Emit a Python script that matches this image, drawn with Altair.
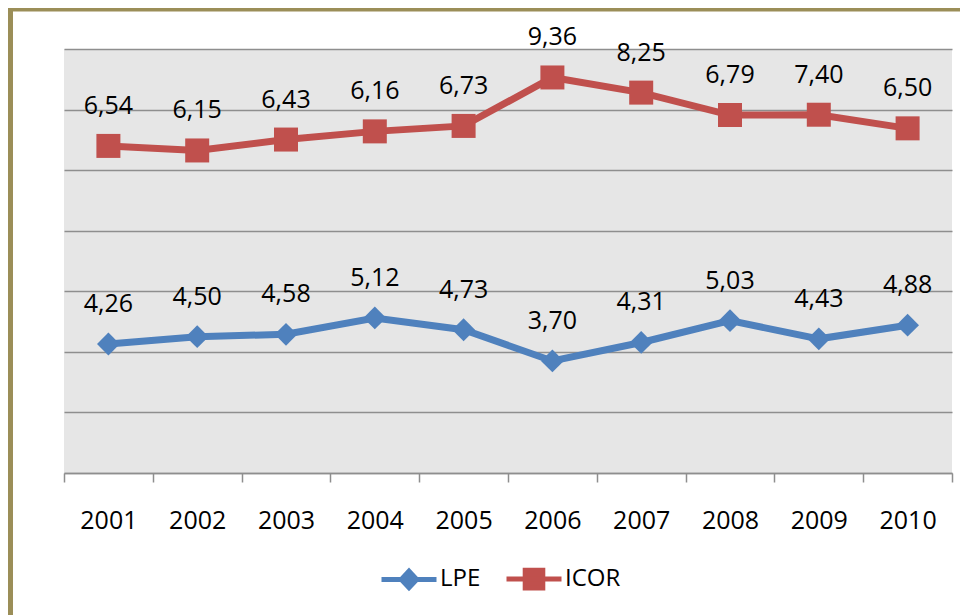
import altair as alt
import pandas as pd

years = ["2001", "2002", "2003", "2004", "2005", "2006", "2007", "2008", "2009", "2010"]
lpe = [4.26, 4.50, 4.58, 5.12, 4.73, 3.70, 4.31, 5.03, 4.43, 4.88]
icor = [6.54, 6.15, 6.43, 6.16, 6.73, 9.36, 8.25, 6.79, 7.40, 6.50]
series_names = ["LPE", "ICOR"]
series_colors = ["#4F81BD", "#C0504D"]
y_grid = [0, 2, 4, 6, 8, 10, 12, 14]

rows = []
for i, yr in enumerate(years):
    rows.append({"year": yr, "series": "LPE", "order": 0, "value": lpe[i]})
    rows.append({"year": yr, "series": "ICOR", "order": 1, "value": icor[i]})
df = pd.DataFrame(rows)

FONT = "Open Sans"
GRID = "#8E8E8E"
color_scale = alt.Scale(domain=series_names, range=series_colors)

x_enc = alt.X(
    "year:N",
    sort=years,
    scale=alt.Scale(type="band", paddingInner=0, paddingOuter=0),
    axis=alt.Axis(
        title=None, labelAngle=0, tickBand="extent", grid=False,
        domainColor=GRID, domainWidth=1.5, tickColor=GRID, tickWidth=1.5, tickSize=9,
        labelFont=FONT, labelFontSize=25, labelColor="black", labelPadding=26,
    ),
)
y_enc = alt.Y(
    "y1:Q",
    scale=alt.Scale(domain=[0, 14], nice=False, zero=True),
    axis=alt.Axis(title=None, values=y_grid, labels=False, ticks=False, domain=False,
                  grid=True, gridColor=GRID, gridWidth=1.5),
)

base = alt.Chart(df).transform_stack(
    stack="value", groupby=["year"], as_=["y0", "y1"],
    sort=[alt.SortField(field="order", order="ascending")],
).transform_calculate(
    label="replace(format(datum.value, '.2f'), '.', ',')"
).encode(x=x_enc, y=y_enc)

line_lpe = base.transform_filter("datum.series == 'LPE'").mark_line(
    strokeWidth=7, color=series_colors[0]
)
line_icor = base.transform_filter("datum.series == 'ICOR'").mark_line(
    strokeWidth=7, color=series_colors[1]
)

diamonds = base.transform_filter("datum.series == 'LPE'").mark_point(
    shape="diamond", filled=True, size=520, opacity=1, color=series_colors[0]
)
squares = base.transform_filter("datum.series == 'ICOR'").mark_point(
    shape="square", filled=True, size=576, opacity=1, color=series_colors[1]
)

labels = base.mark_text(dy=-40, fontSize=25, font=FONT, color="black", baseline="middle").encode(
    text="label:N"
)

diamond_path = "M-1,0L1,0M0,-0.3L0.28,0L0,0.3L-0.28,0Z"
square_path = "M-1,0L1,0M-0.32,-0.32L0.32,-0.32L0.32,0.32L-0.32,0.32Z"

leg = alt.Legend(
    title=None, orient="none", legendX=315, legendY=500, direction="horizontal",
    symbolSize=3025, symbolStrokeWidth=5, labelFont=FONT, labelFontSize=24,
    labelColor="black", labelOffset=1, columnPadding=15, padding=0,
)
legend_layer = base.transform_filter("false").mark_point(filled=True, strokeWidth=5, opacity=1).encode(
    color=alt.Color("series:N", scale=color_scale, legend=leg),
    stroke=alt.Stroke("series:N", scale=color_scale, legend=leg),
    shape=alt.Shape("series:N", scale=alt.Scale(domain=series_names, range=[diamond_path, square_path]), legend=leg),
)

frame_df = pd.DataFrame({"k": [0]})
BORDER = "#9B8E58"
border_left = alt.Chart(frame_df).mark_rule(color=BORDER, strokeWidth=5).encode(
    x=alt.value(-53.5), y=alt.value(-41), y2=alt.value(700)
)
border_top = alt.Chart(frame_df).mark_rule(color=BORDER, strokeWidth=3.6).encode(
    y=alt.value(-39.2), x=alt.value(-56), x2=alt.value(1000)
)

chart = alt.layer(
    border_left, border_top, line_lpe, line_icor, diamonds, squares, labels, legend_layer
).properties(
    width=888, height=424,
    autosize=alt.AutoSizeParams(type="none"),
    padding={"left": 56, "top": 41, "right": 8, "bottom": 142},
    background="white",
).configure_view(fill="#E6E6E6", stroke=None)

chart.save("out.html", embed_options={"renderer": "svg", "actions": False})
